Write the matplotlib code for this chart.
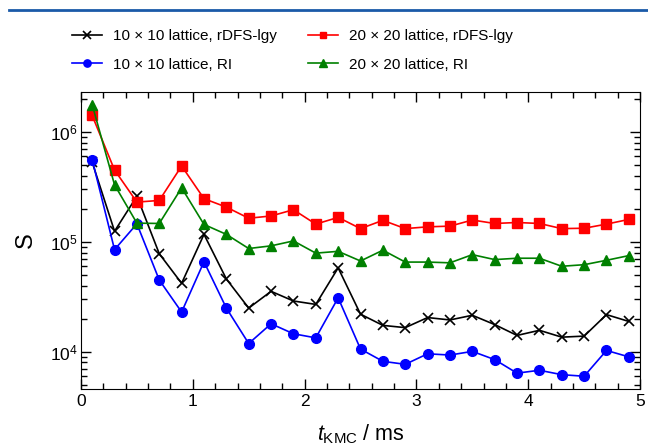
import matplotlib
matplotlib.use('Agg')
import matplotlib.pyplot as plt
from matplotlib.lines import Line2D
from matplotlib.ticker import MultipleLocator, LogLocator
import numpy as np

plt.rcParams['font.family'] = ['Liberation Sans', 'DejaVu Sans']
plt.rcParams['mathtext.fontset'] = 'custom'
plt.rcParams['mathtext.rm'] = 'Liberation Sans'
plt.rcParams['mathtext.it'] = 'Liberation Sans:italic'
plt.rcParams['font.size'] = 11

# time points (ms)
t_kmc = [0.1, 0.3, 0.5, 0.7, 0.9, 1.1, 1.3, 1.5, 1.7, 1.9, 2.1, 2.3, 2.5,
         2.7, 2.9, 3.1, 3.3, 3.5, 3.7, 3.9, 4.1, 4.3, 4.5, 4.7, 4.9]

s10_rdfs = [5.3e5, 1.25e5, 2.6e5, 7.8e4, 4.2e4, 1.17e5, 4.6e4, 2.5e4, 3.55e4, 2.9e4,
            2.7e4, 5.8e4, 2.2e4, 1.74e4, 1.66e4, 2.05e4, 1.95e4, 2.15e4, 1.77e4,
            1.41e4, 1.57e4, 1.36e4, 1.39e4, 2.18e4, 1.89e4]
s10_ri = [5.6e5, 8.5e4, 1.46e5, 4.5e4, 2.3e4, 6.6e4, 2.5e4, 1.19e4, 1.8e4, 1.46e4,
          1.34e4, 3.1e4, 1.06e4, 8.2e3, 7.7e3, 9.6e3, 9.35e3, 1.01e4, 8.5e3,
          6.4e3, 6.8e3, 6.2e3, 6.0e3, 1.03e4, 9.0e3]
s20_rdfs = [1.41e6, 4.5e5, 2.3e5, 2.38e5, 4.9e5, 2.47e5, 2.07e5, 1.64e5, 1.72e5, 1.96e5,
            1.45e5, 1.67e5, 1.32e5, 1.57e5, 1.32e5, 1.37e5, 1.39e5, 1.58e5, 1.47e5,
            1.5e5, 1.47e5, 1.32e5, 1.33e5, 1.45e5, 1.6e5]
s20_ri = [1.77e6, 3.3e5, 1.48e5, 1.47e5, 3.1e5, 1.44e5, 1.17e5, 8.7e4, 9.2e4, 1.02e5,
          7.9e4, 8.2e4, 6.7e4, 8.4e4, 6.55e4, 6.55e4, 6.45e4, 7.65e4, 6.9e4,
          7.1e4, 7.1e4, 6.0e4, 6.2e4, 6.8e4, 7.5e4]

labels = ['10 \u00d7 10 lattice, rDFS-lgy', '10 \u00d7 10 lattice, RI',
          '20 \u00d7 20 lattice, rDFS-lgy', '20 \u00d7 20 lattice, RI']

fig = plt.figure(figsize=(6.48, 4.45), dpi=100)
ax = fig.add_axes([0.125, 0.126, 0.8627, 0.667])

ax.plot(t_kmc, s10_rdfs, color='black', marker='x', markersize=7, mew=1.2, lw=1.2, label=labels[0])
ax.plot(t_kmc, s10_ri, color='blue', marker='o', markersize=7, lw=1.2, label=labels[1])
ax.plot(t_kmc, s20_rdfs, color='red', marker='s', markersize=6.5, lw=1.2, label=labels[2])
ax.plot(t_kmc, s20_ri, color='green', marker='^', markersize=7, lw=1.2, label=labels[3])

ax.set_yscale('log')
ax.set_xlim(0, 5)
ax.set_ylim(4.6e3, 2.3e6)
ax.xaxis.set_major_locator(MultipleLocator(1))
ax.xaxis.set_minor_locator(MultipleLocator(0.2))
ax.yaxis.set_minor_locator(LogLocator(base=10, subs=np.arange(2, 10)))
ax.tick_params(which='both', direction='in', top=True, right=True, labelsize=12.5)
ax.tick_params(which='major', length=7, width=1)
ax.tick_params(which='minor', length=4, width=1)
ax.tick_params(axis='y', pad=2)
ax.tick_params(axis='x', pad=4)

ax.set_xlabel(r'$t_{\mathrm{KMC}}$ / ms', fontsize=15.5, labelpad=9)
ax.set_ylabel('S', fontsize=17, labelpad=10)

ax.legend(ncol=2, loc='center', bbox_to_anchor=(0.451, 0.887),
          bbox_transform=fig.transFigure, frameon=False,
          fontsize=11, handlelength=2.0, columnspacing=2.0, handletextpad=0.7,
          labelspacing=0.95, markerscale=0.75)

# header rule
fig.add_artist(Line2D([0.014, 1.0], [0.977, 0.977], color='#1a5aa8', lw=2))

fig.savefig('out.png', dpi=100)
